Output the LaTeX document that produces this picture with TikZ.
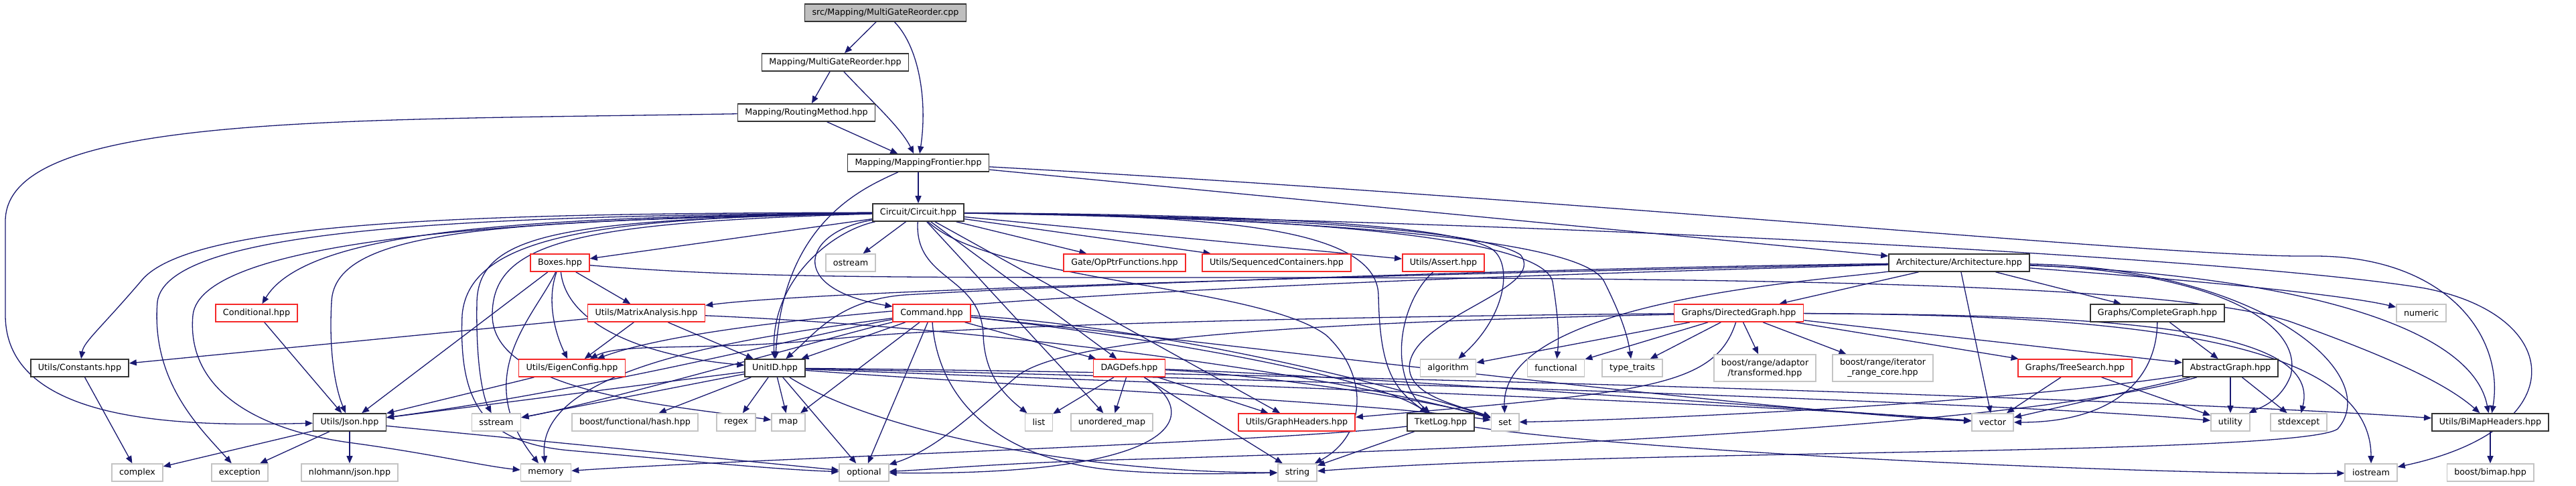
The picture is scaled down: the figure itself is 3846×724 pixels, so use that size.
\documentclass[tikz,border=0pt]{standalone}
\usepackage{fontspec}
\setmainfont{DejaVu Sans}
\usepackage{xcolor}
\usepackage{tikz}
\usetikzlibrary{arrows.meta,backgrounds}
\definecolor{edgeblue}{RGB}{25,25,112}
\definecolor{truncred}{RGB}{245,40,40}
\definecolor{sysgray}{RGB}{196,196,196}
\definecolor{rootgray}{RGB}{191,191,191}

\begin{document}
\begin{tikzpicture}[x=1pt, y=-1pt,
  every node/.style={font=\fontsize{12.7}{15}\selectfont, inner xsep=11pt, inner ysep=0pt, minimum height=26pt, line width=1.6pt},
  hfile/.style={draw=black!80, fill=white},
  tfile/.style={draw=truncred, fill=white},
  sfile/.style={draw=sysgray, fill=white},
  rfile/.style={draw=black!80, fill=rootgray},
  dep/.style={draw=edgeblue, line width=1.3pt, -{Triangle[length=11pt,width=9pt]}}]
\useasboundingbox (0,0) rectangle (3846,724);

% mapping chain
\node[rfile] (cpp) at (1322,19) {src/Mapping/MultiGateReorder.cpp};
\node[hfile] (mgrh) at (1247,93) {Mapping/MultiGateReorder.hpp};
\node[hfile] (routing) at (1204,168) {Mapping/RoutingMethod.hpp};
\node[hfile] (frontier) at (1371,243) {Mapping/MappingFrontier.hpp};
\node[hfile] (circuit) at (1371,317) {Circuit/Circuit.hpp};
% second row
\node[tfile] (boxes) at (836,392) {Boxes.hpp};
\node[sfile] (ostream) at (1270,392) {ostream};
\node[tfile] (opptr) at (1679,392) {Gate/OpPtrFunctions.hpp};
\node[tfile] (seqcont) at (1906,392) {Utils/SequencedContainers.hpp};
\node[tfile] (assert) at (2155,392) {Utils/Assert.hpp};
\node[hfile] (arch) at (2925,392) {Architecture/Architecture.hpp};
% third row
\node[tfile] (cond) at (383,467) {Conditional.hpp};
\node[tfile] (matrix) at (965,467) {Utils/MatrixAnalysis.hpp};
\node[tfile] (command) at (1391,467) {Command.hpp};
\node[tfile] (digraph) at (2596,467) {Graphs/DirectedGraph.hpp};
\node[hfile] (complete) at (3221,467) {Graphs/CompleteGraph.hpp};
\node[sfile] (numeric) at (3615,467) {numeric};
% fourth row
\node[hfile] (constants) at (119,549) {Utils/Constants.hpp};
\node[tfile] (eigen) at (854,549) {Utils/EigenConfig.hpp};
\node[hfile] (unitid) at (1157,549) {UnitID.hpp};
\node[tfile] (dagdefs) at (1686,549) {DAGDefs.hpp};
\node[sfile] (algorithm) at (2162,549) {algorithm};
\node[sfile] (functional) at (2323,549) {functional};
\node[sfile] (typetraits) at (2437,549) {type\_traits};
\node[sfile, align=center, minimum height=40pt] (transformed) at (2635,549) {boost/range/adaptor\\/transformed.hpp};
\node[sfile, align=center, minimum height=40pt] (rangecore) at (2811,549) {boost/range/iterator\\\_range\_core.hpp};
\node[tfile] (treesearch) at (3098,549) {Graphs/TreeSearch.hpp};
\node[hfile] (abstract) at (3330,549) {AbstractGraph.hpp};
% fifth row
\node[hfile] (json) at (522,630) {Utils/Json.hpp};
\node[sfile] (sstream) at (741,630) {sstream};
\node[sfile] (hash) at (948,630) {boost/functional/hash.hpp};
\node[sfile] (regex) at (1099,630) {regex};
\node[sfile] (map) at (1177,630) {map};
\node[sfile] (list) at (1551,630) {list};
\node[sfile] (umap) at (1660,630) {unordered\_map};
\node[tfile] (graphh) at (1936,630) {Utils/GraphHeaders.hpp};
\node[hfile] (tketlog) at (2151,630) {TketLog.hpp};
\node[sfile] (set) at (2247,630) {set};
\node[sfile] (vector) at (2975,630) {vector};
\node[sfile] (utility) at (3330,630) {utility};
\node[sfile] (stdexcept) at (3432,630) {stdexcept};
\node[hfile] (bimaph) at (3718,630) {Utils/BiMapHeaders.hpp};
% bottom row
\node[sfile] (complex) at (205,705) {complex};
\node[sfile] (exception) at (358,705) {exception};
\node[sfile] (nlohmann) at (522,705) {nlohmann/json.hpp};
\node[sfile] (memory) at (815,705) {memory};
\node[sfile] (optional) at (1290,705) {optional};
\node[sfile] (string) at (1937,705) {string};
\node[sfile] (iostream) at (3540,705) {iostream};
\node[sfile] (bimap) at (3718,705) {boost/bimap.hpp};

\begin{scope}[on background layer]
% top of the graph
\draw[dep] (cpp) -- (mgrh);
\draw[dep] (cpp) .. controls (1372,70) and (1385,150) .. (frontier);
\draw[dep] (mgrh) -- (routing);
\draw[dep] (mgrh) .. controls (1300,150) and (1345,190) .. (frontier);
\draw[dep] (routing) -- (frontier);
\draw[dep] (routing) .. controls (500,180) and (8,170) .. (8,330) -- (8,470) .. controls (8,640) and (300,635) .. (json);
\draw[dep] (frontier) -- (circuit);
\draw[dep] (frontier) .. controls (1290,280) and (1170,330) .. (unitid);
\draw[dep] (frontier) -- (arch);
\draw[dep] (frontier) .. controls (2400,300) and (3250,385) .. (3450,382) .. controls (3650,380) and (3740,500) .. (bimaph);

% Circuit.hpp
\draw[dep] (circuit) -- (boxes);
\draw[dep] (circuit) -- (ostream);
\draw[dep] (circuit) -- (opptr);
\draw[dep] (circuit) -- (seqcont);
\draw[dep] (circuit) -- (assert);
\draw[dep] (circuit) -- (dagdefs);
\draw[dep] (circuit) -- (umap);
\draw[dep] (circuit) -- (graphh);
\draw[dep] (circuit) .. controls (1365,420) and (1465,410) .. (1468,500) .. controls (1470,560) and (1500,590) .. (list);
\draw[dep] (circuit) .. controls (1200,345) and (1170,430) .. (command);
\draw[dep] (circuit) .. controls (1240,345) and (1150,420) .. (unitid);
\draw[dep] (circuit) .. controls (700,318) and (280,330) .. (210,420) .. controls (150,490) and (125,510) .. (constants);
\draw[dep] (circuit) .. controls (700,322) and (250,340) .. (235,450) .. controls (225,570) and (300,640) .. (exception);
\draw[dep] (circuit) .. controls (750,326) and (300,360) .. (288,470) .. controls (278,580) and (380,640) .. (520,660) .. controls (640,676) and (720,695) .. (memory);
\draw[dep] (circuit) .. controls (750,330) and (500,340) .. (495,450) .. controls (490,540) and (505,590) .. (json);
\draw[dep] (circuit) .. controls (800,324) and (460,340) .. (cond);
\draw[dep] (circuit) .. controls (850,328) and (715,345) .. (712,450) .. controls (710,560) and (725,600) .. (sstream);
\draw[dep] (circuit) .. controls (860,332) and (735,360) .. (735,470) .. controls (735,585) and (1000,605) .. (map);
\draw[dep] (circuit) .. controls (900,325) and (700,350) .. (690,470) .. controls (685,600) and (720,660) .. (850,672) .. controls (1000,685) and (1150,700) .. (optional);
\draw[dep] (circuit) .. controls (1800,320) and (2150,330) .. (2225,370) .. controls (2260,390) and (2250,470) .. (algorithm);
\draw[dep] (circuit) .. controls (1800,322) and (2200,335) .. (2270,380) .. controls (2310,430) and (2120,470) .. (2105,540) .. controls (2095,590) and (2180,605) .. (set);
\draw[dep] (circuit) .. controls (1850,322) and (2300,345) .. (2318,420) .. controls (2326,470) and (2328,500) .. (functional);
\draw[dep] (circuit) .. controls (1900,325) and (2360,350) .. (2395,420) .. controls (2420,470) and (2430,500) .. (typetraits);
\draw[dep] (circuit) .. controls (1800,322) and (2055,335) .. (2058,440) .. controls (2060,550) and (2080,580) .. (tketlog);
\draw[dep] (circuit) .. controls (1480,420) and (1880,425) .. (1980,500) .. controls (2045,560) and (2040,650) .. (string);
\draw[dep] (circuit) .. controls (2300,330) and (3350,385) .. (3620,430) .. controls (3830,470) and (3846,640) .. (iostream);

% Boxes.hpp and Conditional.hpp
\draw[dep] (boxes) -- (json);
\draw[dep] (boxes) .. controls (800,470) and (700,560) .. (memory);
\draw[dep] (boxes) .. controls (815,450) and (830,500) .. (eigen);
\draw[dep] (boxes) -- (matrix);
\draw[dep] (boxes) .. controls (845,480) and (950,530) .. (unitid);
\draw[dep] (boxes) .. controls (1100,414) and (1300,414) .. (1800,414) .. controls (2600,414) and (3250,422) .. (3420,480) .. controls (3560,530) and (3650,570) .. (bimaph);
\draw[dep] (cond) -- (json);

% MatrixAnalysis.hpp and EigenConfig.hpp
\draw[dep] (matrix) -- (constants);
\draw[dep] (matrix) -- (eigen);
\draw[dep] (matrix) -- (unitid);
\draw[dep] (matrix) .. controls (1500,490) and (2000,560) .. (set);
\draw[dep] (eigen) -- (json);

% Command.hpp
\draw[dep] (command) -- (unitid);
\draw[dep] (command) -- (dagdefs);
\draw[dep] (command) -- (optional);
\draw[dep] (command) -- (map);
\draw[dep] (command) .. controls (1250,490) and (900,580) .. (json);
\draw[dep] (command) .. controls (1250,500) and (900,600) .. (sstream);
\draw[dep] (command) .. controls (1100,505) and (800,550) .. (memory);
\draw[dep] (command) .. controls (1400,590) and (1480,680) .. (1650,700) .. controls (1750,710) and (1850,706) .. (string);
\draw[dep] (command) .. controls (1700,500) and (2050,560) .. (tketlog);
\draw[dep] (command) .. controls (1750,490) and (2100,580) .. (set);
\draw[dep] (command) .. controls (1900,520) and (2600,610) .. (vector);

% UnitID.hpp
\draw[dep] (unitid) -- (json);
\draw[dep] (unitid) -- (sstream);
\draw[dep] (unitid) -- (hash);
\draw[dep] (unitid) -- (regex);
\draw[dep] (unitid) -- (map);
\draw[dep] (unitid) -- (optional);
\draw[dep] (unitid) .. controls (1300,640) and (1600,705) .. (string);
\draw[dep] (unitid) .. controls (1500,575) and (2050,600) .. (set);
\draw[dep] (unitid) .. controls (1700,570) and (2600,600) .. (vector);
\draw[dep] (unitid) .. controls (1900,565) and (3000,600) .. (utility);
\draw[dep] (unitid) .. controls (2100,558) and (3300,600) .. (bimaph);

% DAGDefs.hpp, TketLog.hpp, Assert.hpp
\draw[dep] (dagdefs) -- (list);
\draw[dep] (dagdefs) -- (umap);
\draw[dep] (dagdefs) -- (graphh);
\draw[dep] (dagdefs) -- (string);
\draw[dep] (dagdefs) .. controls (1800,620) and (1760,710) .. (optional);
\draw[dep] (dagdefs) .. controls (1900,560) and (2150,600) .. (set);
\draw[dep] (dagdefs) .. controls (2000,560) and (2700,610) .. (vector);
\draw[dep] (tketlog) -- (string);
\draw[dep] (tketlog) .. controls (1900,660) and (1100,685) .. (memory);
\draw[dep] (tketlog) .. controls (2500,680) and (3300,710) .. (iostream);
\draw[dep] (assert) .. controls (2090,450) and (2070,560) .. (tketlog);

% Architecture.hpp
\draw[dep] (arch) -- (digraph);
\draw[dep] (arch) -- (complete);
\draw[dep] (arch) -- (vector);
\draw[dep] (arch) .. controls (3300,420) and (3500,440) .. (numeric);
\draw[dep] (arch) .. controls (3300,405) and (3440,480) .. (3420,560) .. controls (3405,600) and (3370,610) .. (utility);
\draw[dep] (arch) .. controls (3400,410) and (3690,480) .. (bimaph);
\draw[dep] (arch) .. controls (3380,400) and (3560,560) .. (3490,640) .. controls (3430,680) and (2400,670) .. (string);
\draw[dep] (arch) .. controls (2700,420) and (2240,450) .. (set);
\draw[dep] (arch) .. controls (2300,400) and (1600,425) .. (1350,440) .. controls (1250,448) and (1215,500) .. (unitid);
\draw[dep] (arch) .. controls (2300,405) and (1250,430) .. (matrix);
\draw[dep] (arch) .. controls (2300,410) and (1150,440) .. (eigen);

% DirectedGraph.hpp
\draw[dep] (digraph) -- (typetraits);
\draw[dep] (digraph) -- (transformed);
\draw[dep] (digraph) -- (rangecore);
\draw[dep] (digraph) -- (treesearch);
\draw[dep] (digraph) -- (abstract);
\draw[dep] (digraph) -- (functional);
\draw[dep] (digraph) -- (algorithm);
\draw[dep] (digraph) .. controls (3100,470) and (3470,480) .. (stdexcept);
\draw[dep] (digraph) .. controls (3150,470) and (3540,500) .. (iostream);
\draw[dep] (digraph) .. controls (2560,580) and (2450,585) .. (graphh);
\draw[dep] (digraph) .. controls (2000,472) and (1450,485) .. (1250,505) .. controls (1050,525) and (930,510) .. (eigen);
\draw[dep] (digraph) .. controls (2000,480) and (1600,500) .. (1520,560) .. controls (1460,610) and (1400,670) .. (optional);

% graph classes
\draw[dep] (complete) -- (abstract);
\draw[dep] (complete) .. controls (3220,570) and (3150,630) .. (vector);
\draw[dep] (treesearch) -- (vector);
\draw[dep] (treesearch) -- (utility);
\draw[dep] (abstract) -- (vector);
\draw[dep] (abstract) -- (utility);
\draw[dep] (abstract) -- (stdexcept);
\draw[dep] (abstract) .. controls (3000,600) and (2500,625) .. (set);
\draw[dep] (abstract) .. controls (3000,640) and (2200,670) .. (1700,685) .. controls (1500,690) and (1400,700) .. (optional);
\draw[dep] (bimaph) -- (bimap);

% Json.hpp and Constants.hpp
\draw[dep] (json) -- (complex);
\draw[dep] (json) -- (exception);
\draw[dep] (json) -- (nlohmann);
\draw[dep] (json) -- (optional);
\draw[dep] (constants) -- (complex);
\end{scope}
\end{tikzpicture}
\end{document}
